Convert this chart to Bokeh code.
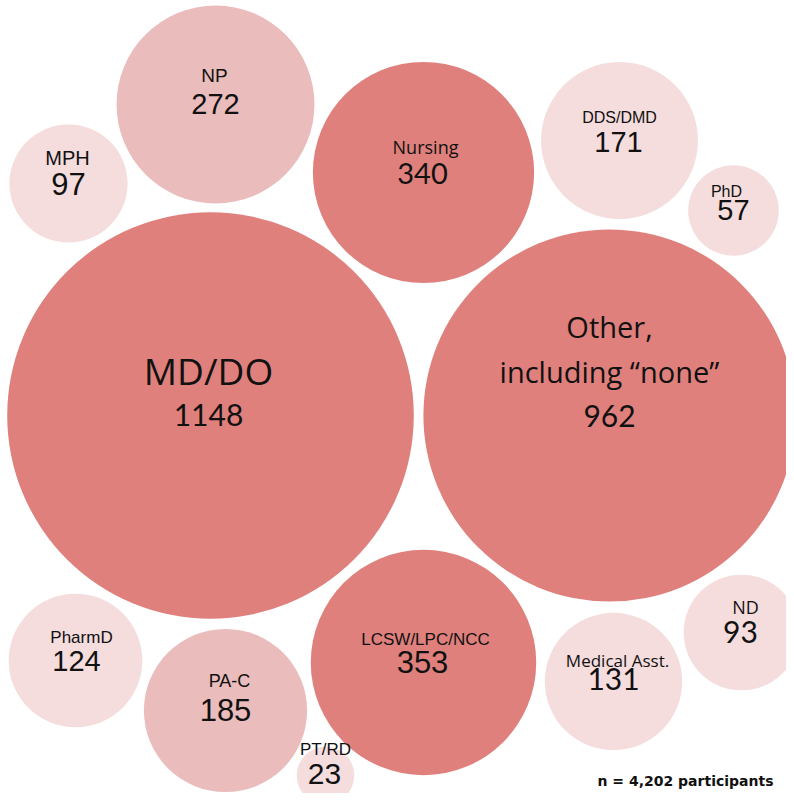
import numpy as np
from bokeh.plotting import figure
from bokeh.models import ColumnDataSource, Range1d
from bokeh.embed import file_html
from bokeh.resources import INLINE
from bokeh.core.properties import value

# ---- data ----
categories = ["MD/DO", "Other,\nincluding “none”", "LCSW/LPC/NCC", "Nursing", "NP", "PA-C",
              "DDS/DMD", "Medical Asst.", "PharmD", "MPH", "ND", "PhD", "PT/RD"]
counts = [1148, 962, 353, 340, 272, 185, 171, 131, 124, 97, 93, 57, 23]
total_note = "n = 4,202 participants"

# ---- layout (pixel positions of the packed bubbles and their texts) ----
cx = [210, 609, 423, 423, 215, 225, 619, 613, 75, 68, 741, 733, 325]
cy = [415, 415, 662, 172, 104, 710, 140, 681, 660, 183, 632, 210, 775]
label_x = [208, 609, 425, 425, 214, 229, 619, 617, 81, 67, 745, 726, 325]
label_y = [384, 337, 645, 153, 82, 687, 123, 666, 643, 165, 613, 197, 755]
num_x = [208, 609, 422, 422, 215, 225, 618, 613, 76, 68, 740, 733, 324]
num_y = [426, 427, 673, 184, 115, 721, 153, 690, 672, 195, 643, 221, 785]
label_size = [37, 29, 17, 18, 19, 18, 16, 17, 17, 20, 18, 16, 17]
num_size = [30, 30, 31, 29, 29, 31, 29, 30, 29, 31, 30, 29, 30]
LS, OS, LA = "Liberation Sans", "Open Sans", "Lato"
label_fonts = [OS, OS, LS, OS, LS, LS, LS, OS, LS, LS, OS, LS, LS]
num_fonts = [LA, LA, LS, LA, LS, LS, LS, LA, LS, LS, LA, LS, LS]
line_gap = 45
radius_scale = 6.0
baseline_fix = 0.38  # renderer places the alphabetic baseline ~0.38em lower

DARK, MID, LIGHT = "#df807c", "#eabcbc", "#f5dcdd"


def tier_color(v):
    if v >= 300:
        return DARK
    if v >= 180:
        return MID
    return LIGHT


W, H = 786, 793
p = figure(width=W, height=H, output_backend="svg", toolbar_location=None,
           x_axis_type=None, y_axis_type=None, min_border=0,
           x_range=Range1d(0, W), y_range=Range1d(H, 0))
p.outline_line_color = None
p.grid.visible = False
p.background_fill_color = "white"
p.border_fill_color = "white"

bubbles = ColumnDataSource(dict(
    x=cx, y=cy,
    r=[radius_scale * np.sqrt(v) for v in counts],
    color=[tier_color(v) for v in counts],
))
p.circle(x="x", y="y", radius="r", fill_color="color", line_color=None, source=bubbles)

# category labels (one row per line)
lx, ly, lt, ls, lf = [], [], [], [], []
for i, cat in enumerate(categories):
    for j, line in enumerate(cat.split("\n")):
        lx.append(label_x[i])
        ly.append(label_y[i] + j * line_gap - baseline_fix * label_size[i])
        lt.append(line)
        ls.append(f"{label_size[i]}px")
        lf.append(label_fonts[i])
p.text(x="x", y="y", text="t", text_font_size="s", text_font="f",
       text_align="center", text_baseline="alphabetic", text_color="#111111",
       source=ColumnDataSource(dict(x=lx, y=ly, t=lt, s=ls, f=lf)))

# count labels
p.text(x="x", y="y", text="t", text_font_size="s", text_font="f",
       text_align="center", text_baseline="alphabetic", text_color="#111111",
       source=ColumnDataSource(dict(x=num_x,
                                    y=[y - baseline_fix * s for y, s in zip(num_y, num_size)],
                                    t=[str(v) for v in counts],
                                    s=[f"{s}px" for s in num_size], f=num_fonts)))

p.text(x=[597], y=[786 - baseline_fix * 14], text=[total_note], text_font=value("DejaVu Sans"),
       text_font_style="bold", text_font_size="14px", text_align="left",
       text_baseline="alphabetic", text_color="#111111")

open("out.html", "w").write(file_html(p, INLINE))
